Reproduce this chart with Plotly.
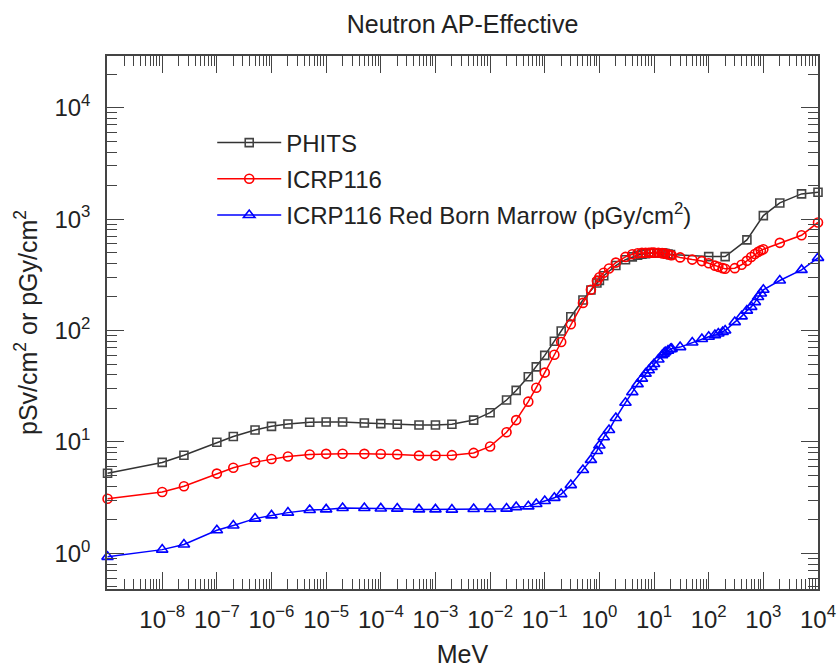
import plotly.graph_objects as go

# ---------------- data ----------------
phits_energy = [1e-9, 1e-8, 2.5e-8, 1e-7, 2e-7, 5e-7, 1e-6, 2e-6, 5e-6, 1e-5, 2e-5, 5e-5,
                1e-4, 2e-4, 5e-4, 1e-3, 2e-3, 5e-3, 1e-2, 2e-2, 3e-2, 5e-2, 7e-2, 0.1, 0.15,
                0.2, 0.3, 0.5, 0.7, 0.9, 1.0, 1.2, 2.0, 3.0, 4.0, 5.0, 6.0, 7.0, 8.0, 9.0,
                10, 12, 14, 15, 16, 18, 20, 100, 200, 500, 1000, 2000, 5000, 10000]
phits_value = [5.24, 6.55, 7.60, 9.95, 11.2, 12.8, 13.8, 14.5, 15.0, 15.1, 15.1, 14.8,
               14.6, 14.4, 14.2, 14.2, 14.4, 15.7, 18.3, 23.8, 29.0, 38.5, 47.2, 59.8, 80.2,
               99.0, 133, 188, 231, 267, 282, 310, 383, 432, 458, 474, 483, 490, 494, 497,
               499, 499, 496, 494, 491, 486, 480, 461, 461, 651, 1075, 1397, 1683, 1740]

icrp_energy = [1e-9, 1e-8, 2.5e-8, 1e-7, 2e-7, 5e-7, 1e-6, 2e-6, 5e-6, 1e-5, 2e-5, 5e-5,
               1e-4, 2e-4, 5e-4, 1e-3, 2e-3, 5e-3, 1e-2, 2e-2, 3e-2, 5e-2, 7e-2, 0.1, 0.15,
               0.2, 0.3, 0.5, 0.7, 0.9, 1.0, 1.2, 1.5, 2.0, 3.0, 4.0, 5.0, 6.0, 7.0, 8.0,
               9.0, 10, 12, 14, 15, 16, 18, 20, 21, 30, 50, 75, 100, 130, 150, 180, 200,
               300, 400, 500, 600, 700, 800, 900, 1000, 2000, 5000, 10000]
icrp116_value = [3.09, 3.55, 4.00, 5.20, 5.87, 6.59, 7.03, 7.39, 7.71, 7.82, 7.84, 7.82,
                 7.79, 7.73, 7.54, 7.54, 7.61, 7.97, 9.11, 12.2, 15.7, 23.0, 30.6, 41.9, 60.6,
                 78.8, 114, 177, 232, 279, 301, 330, 360, 407, 458, 483, 494, 498, 499, 499,
                 500, 500, 499, 495, 493, 490, 484, 477, 474, 453, 433, 420, 402, 382, 373,
                 363, 359, 363, 389, 422, 457, 486, 508, 524, 537, 612, 716, 933]
rbm_value = [0.93, 1.08, 1.20, 1.61, 1.78, 2.05, 2.19, 2.32, 2.45, 2.48, 2.55, 2.55,
             2.53, 2.52, 2.48, 2.48, 2.47, 2.50, 2.50, 2.52, 2.60, 2.64, 2.77, 2.95, 3.15,
             3.40, 4.10, 5.6, 6.9, 8.3, 9.3, 11.0, 12.8, 16.4, 22.5, 28, 33, 37, 41, 44,
             47, 50, 55, 60, 62, 64, 66, 68, 68.5, 71, 78, 84, 88, 91, 94, 97, 100,
             119, 134, 151, 163, 180, 200, 215, 232, 281, 350, 449]

x_tick_vals = [1e-8, 1e-7, 1e-6, 1e-5, 1e-4, 1e-3, 1e-2, 1e-1, 1e0, 1e1, 1e2, 1e3, 1e4]
x_tick_text = ["10<sup>\u22128</sup>", "10<sup>\u22127</sup>", "10<sup>\u22126</sup>",
               "10<sup>\u22125</sup>", "10<sup>\u22124</sup>", "10<sup>\u22123</sup>",
               "10<sup>\u22122</sup>", "10<sup>\u22121</sup>", "10<sup>0</sup>",
               "10<sup>1</sup>", "10<sup>2</sup>", "10<sup>3</sup>", "10<sup>4</sup>"]
y_tick_vals = [1e0, 1e1, 1e2, 1e3, 1e4]
y_tick_text = ["10<sup>0</sup>", "10<sup>1</sup>", "10<sup>2</sup>", "10<sup>3</sup>", "10<sup>4</sup>"]

FONT = "Liberation Sans, Arial, Helvetica, sans-serif"
AX = "#444444"
TXT = "#222222"

fig = go.Figure()
fig.add_trace(go.Scatter(
    x=phits_energy, y=phits_value, mode="lines+markers", name="PHITS",
    legendgroup="a", cliponaxis=False,
    line=dict(color="#333333", width=1.5),
    marker=dict(symbol="square-open", size=8, color="#444444", line=dict(width=1.6))))
fig.add_trace(go.Scatter(
    x=icrp_energy, y=icrp116_value, mode="lines+markers", name="ICRP116",
    legendgroup="b", cliponaxis=False,
    line=dict(color="#ff0000", width=1.5),
    marker=dict(symbol="circle-open", size=9, color="#ff0000", line=dict(width=1.6))))
fig.add_trace(go.Scatter(
    x=icrp_energy, y=rbm_value, mode="lines+markers",
    name="ICRP116 Red Born Marrow (pGy/cm<sup>2</sup>)",
    legendgroup="c", cliponaxis=False,
    line=dict(color="#0000ff", width=1.5),
    marker=dict(symbol="triangle-up-open", size=10, color="#0000ff", line=dict(width=1.6))))

axis_common = dict(
    type="log", showgrid=False, zeroline=False, automargin=False,
    showline=True, linecolor=AX, linewidth=1.5, mirror="allticks",
    ticks="inside", ticklen=17, tickwidth=1.2, tickcolor=AX,
    tickfont=dict(family=FONT, size=24, color=TXT),
    minor=dict(ticks="inside", ticklen=10, tickwidth=1.0, tickcolor=AX, dtick="D1", showgrid=False),
)

fig.update_xaxes(**axis_common, range=[-9.01, 4.0],
                 tickmode="array", tickvals=x_tick_vals, ticktext=x_tick_text,
                 ticklabelstandoff=8,
                 title=dict(text="MeV", font=dict(family=FONT, size=25, color=TXT), standoff=14))
fig.update_yaxes(**axis_common, range=[-0.32, 4.464],
                 tickmode="array", tickvals=y_tick_vals, ticktext=y_tick_text,
                 ticklabelstandoff=10,
                 title=dict(text="pSv/cm<sup>2</sup> or pGy/cm<sup>2</sup>",
                            font=dict(family=FONT, size=25, color=TXT), standoff=10))

fig.update_layout(
    width=839, height=669, autosize=False,
    margin=dict(l=107, r=21, t=56, b=80),
    paper_bgcolor="white", plot_bgcolor="white",
    title=dict(text="Neutron AP-Effective", x=0.5, xref="paper", xanchor="center",
               y=1 - 24 / 669, yref="container", yanchor="middle",
               font=dict(family=FONT, size=25, color=TXT)),
    legend=dict(x=0.148, y=0.879, xanchor="left", yanchor="top",
                bgcolor="rgba(0,0,0,0)", borderwidth=0,
                font=dict(family=FONT, size=24, color=TXT),
                itemwidth=64, tracegroupgap=2),
    showlegend=True,
)

fig.write_html("out.html")
